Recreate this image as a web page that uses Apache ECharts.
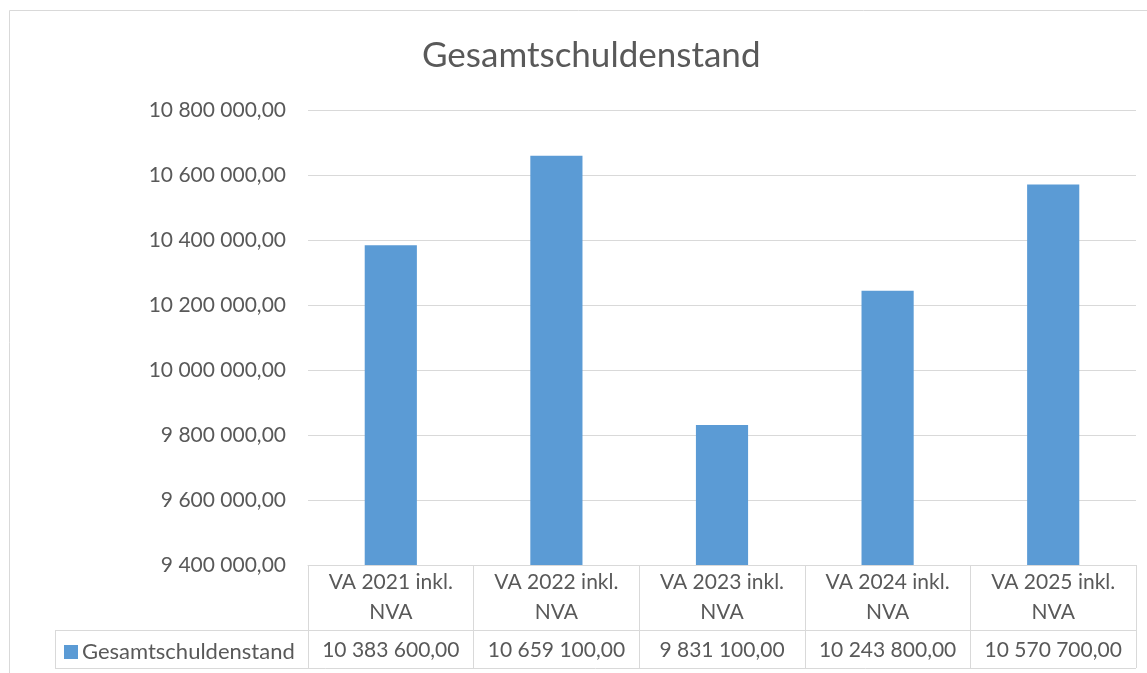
<!DOCTYPE html>
<html>
<head>
<meta charset="utf-8">
<title>Gesamtschuldenstand</title>
<script src="https://cdn.jsdelivr.net/npm/echarts@6/dist/echarts.min.js"></script>
<style>
  html, body { margin: 0; padding: 0; background: #fff; }
  #chart { width: 1147px; height: 673px; }
</style>
</head>
<body>
<div id="chart"></div>
<script>
// data
const categories = ['VA 2021 inkl.\nNVA', 'VA 2022 inkl.\nNVA', 'VA 2023 inkl.\nNVA', 'VA 2024 inkl.\nNVA', 'VA 2025 inkl.\nNVA']
const seriesName = 'Gesamtschuldenstand'
const values = [10383600, 10659100, 9831100, 10243800, 10570700]
const yMin = 9400000
const yMax = 10800000
const yStep = 200000

const FONT = 'Lato'
const TEXT = '#595959'
const LINE = '#D9D9D9'
const BAR = '#5B9BD5'

// layout
const gridLeft = 308
const gridRight = 11
const gridTop = 110
const gridBottom = 108
const rowOffset = 65      // category row height
const rowHeight = 38      // value row height
const legendCellLeft = 55

// "10 383 600,00"
const fmt = (v) => {
  const parts = Number(v).toFixed(2).split('.')
  return parts[0].replace(/\B(?=(\d{3})+(?!\d))/g, ' ') + ',' + parts[1]
}

const chart = echarts.init(document.getElementById('chart'))

const W = 1147
const H = 673
const axisY = H - gridBottom
const rowY = axisY + rowOffset
const tableBottom = rowY + rowHeight

const option = {
  animation: false,
  textStyle: { fontFamily: FONT },
  title: {
    text: 'Gesamtschuldenstand',
    left: 417,
    top: 33,
    textStyle: { fontFamily: FONT, fontSize: 35, fontWeight: 'normal', color: TEXT }
  },
  legend: {
    data: [seriesName],
    left: 59,
    top: rowY + 6,
    itemWidth: 14,
    itemHeight: 14,
    icon: 'rect',
    textStyle: { fontFamily: FONT, fontSize: 22, color: TEXT, padding: [0, 0, 0, -1] }
  },
  grid: { left: gridLeft, right: gridRight, top: gridTop, bottom: gridBottom },
  xAxis: [
    {
      type: 'category',
      data: categories,
      axisLine: { lineStyle: { color: LINE, width: 1 } },
      axisTick: { show: true, length: rowOffset + rowHeight, lineStyle: { color: LINE, width: 1 } },
      axisLabel: { color: TEXT, fontFamily: FONT, fontSize: 21, lineHeight: 30, margin: 2, interval: 0 }
    },
    {
      type: 'category',
      data: values.map(fmt),
      position: 'bottom',
      offset: rowOffset,
      axisLine: { lineStyle: { color: LINE, width: 1 } },
      axisTick: { show: false },
      axisLabel: { color: TEXT, fontFamily: FONT, fontSize: 21, lineHeight: 22, margin: 9, interval: 0 }
    }
  ],
  yAxis: {
    type: 'value',
    min: yMin,
    max: yMax,
    interval: yStep,
    axisLine: { show: false },
    axisTick: { show: false },
    splitLine: { lineStyle: { color: LINE, width: 1 } },
    axisLabel: { color: TEXT, fontFamily: FONT, fontSize: 21, margin: 22, formatter: fmt }
  },
  series: [
    {
      name: seriesName,
      type: 'bar',
      data: values,
      barWidth: '31.5%',
      itemStyle: { color: BAR }
    }
  ],
  graphic: [
    // outer chart border
    { type: 'rect', silent: true, shape: { x: 9.5, y: 10.5, width: 1160, height: 700 },
      style: { fill: 'none', stroke: LINE, lineWidth: 1 } },
    // table lines around the legend cell
    { type: 'line', silent: true, shape: { x1: legendCellLeft, y1: rowY + 0.5, x2: gridLeft, y2: rowY + 0.5 },
      style: { stroke: LINE, lineWidth: 1 } },
    { type: 'line', silent: true, shape: { x1: legendCellLeft, y1: tableBottom + 0.5, x2: W - gridRight, y2: tableBottom + 0.5 },
      style: { stroke: LINE, lineWidth: 1 } },
    { type: 'line', silent: true, shape: { x1: legendCellLeft + 0.5, y1: rowY, x2: legendCellLeft + 0.5, y2: tableBottom },
      style: { stroke: LINE, lineWidth: 1 } }
  ]
}

chart.setOption(option)
</script>
</body>
</html>
